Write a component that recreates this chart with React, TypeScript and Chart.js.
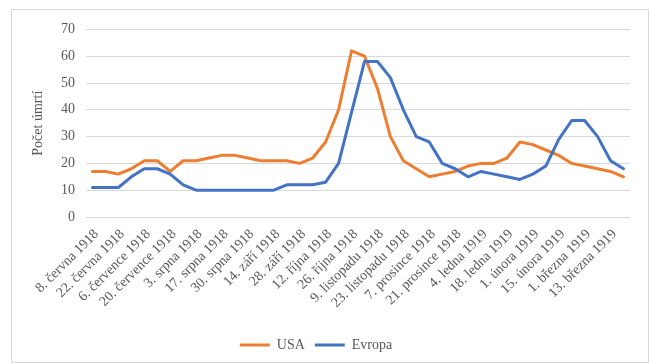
import React, { useEffect, useRef } from "react";
import { Chart, registerables } from "chart.js";

Chart.register(...registerables);

const tickLabels = [
  "8. června 1918",
  "22. června 1918",
  "6. července 1918",
  "20. července 1918",
  "3. srpna 1918",
  "17. srpna 1918",
  "30. srpna 1918",
  "14. září 1918",
  "28. září 1918",
  "12. října 1918",
  "26. října 1918",
  "9. listopadu 1918",
  "23. listopadu 1918",
  "7. prosince 1918",
  "21. prosince 1918",
  "4. ledna 1919",
  "18. ledna 1919",
  "1. února 1919",
  "15. února 1919",
  "1. března 1919",
  "13. března 1919",
];

// weekly categories; only every other one carries a label
const categories: string[] = tickLabels.flatMap((l) => [l, ""]);

const usa = [
  17, 17, 16, 18, 21, 21, 17, 21, 21, 22, 23, 23, 22, 21, 21, 21, 20, 22, 28, 40,
  62, 60, 48, 30, 21, 18, 15, 16, 17, 19, 20, 20, 22, 28, 27, 25, 23, 20, 19, 18,
  17, 15,
];

const evropa = [
  11, 11, 11, 15, 18, 18, 16, 12, 10, 10, 10, 10, 10, 10, 10, 12, 12, 12, 13, 20,
  39, 58, 58, 52, 40, 30, 28, 20, 18, 15, 17, 16, 15, 14, 16, 19, 29, 36, 36, 30,
  21, 18,
];

const yTitle = "Počet úmrtí";
const seriesNames = ["USA", "Evropa"];
const colors = ["#ED7D31", "#4472C4"];

const FONT = "'Liberation Serif', 'Times New Roman', serif";
const TEXT = "#595959";

const legendShift = {
  id: "legendShift",
  afterLayout(chart: any) {
    if (chart.legend) {
      chart.legend.left -= 12;
      chart.legend.right -= 12;
    }
  },
};

export default function App() {
  const ref = useRef<HTMLCanvasElement | null>(null);

  useEffect(() => {
    if (!ref.current) return;
    const chart = new Chart(ref.current, {
      type: "line",
      data: {
        labels: categories,
        datasets: [
          {
            label: seriesNames[0],
            data: usa,
            borderColor: colors[0],
            backgroundColor: colors[0],
            borderWidth: 3,
            pointRadius: 0,
            tension: 0,
            order: 1,
            borderJoinStyle: "round",
            borderCapStyle: "round",
          },
          {
            label: seriesNames[1],
            data: evropa,
            borderColor: colors[1],
            backgroundColor: colors[1],
            borderWidth: 3,
            pointRadius: 0,
            tension: 0,
            order: 0,
            borderJoinStyle: "round",
            borderCapStyle: "round",
          },
        ],
      },
      plugins: [legendShift],
      options: {
        responsive: false,
        animation: false,
        devicePixelRatio: 1,
        layout: { padding: { left: 14, right: 18, top: 17, bottom: 0 } },
        plugins: {
          tooltip: { enabled: false },
          legend: {
            position: "bottom",
            labels: {
              boxWidth: 30,
              boxHeight: 3,
              padding: 10,
              color: TEXT,
              font: { family: FONT, size: 14 },
              generateLabels: (c: any) =>
                c.data.datasets.map((ds: any, i: number) => ({
                  text: ds.label,
                  fillStyle: ds.borderColor,
                  strokeStyle: ds.borderColor,
                  lineWidth: 0,
                  hidden: false,
                  datasetIndex: i,
                  fontColor: TEXT,
                })),
            },
          },
        },
        scales: {
          x: {
            offset: true,
            grid: { display: false, drawTicks: false },
            border: { display: false },
            ticks: {
              autoSkip: false,
              maxRotation: 45,
              minRotation: 45,
              padding: 9,
              labelOffset: 4,
              color: TEXT,
              font: { family: FONT, size: 14 },
            },
            afterFit: (s: any) => {
              s.height = 111;
            },
          },
          y: {
            min: 0,
            max: 70,
            ticks: {
              stepSize: 10,
              padding: 11,
              color: TEXT,
              font: { family: FONT, size: 14 },
            },
            grid: { color: "#d9d9d9", lineWidth: 1, drawTicks: false },
            border: { display: false },
            title: {
              display: true,
              text: yTitle,
              color: TEXT,
              font: { family: FONT, size: 14 },
            },
            afterFit: (s: any) => {
              s.width = 60;
            },
          },
        },
      },
    });
    return () => chart.destroy();
  }, []);

  return (
    <div
      style={{
        position: "fixed",
        left: 0,
        top: 0,
        width: 649,
        height: 363,
        background: "#fff",
      }}
    >
      <div
        style={{
          position: "absolute",
          left: 11,
          top: 9,
          width: 636,
          height: 352,
          border: "1px solid #d9d9d9",
        }}
      >
        <canvas ref={ref} width={636} height={352} style={{ display: "block" }} />
      </div>
    </div>
  );
}
